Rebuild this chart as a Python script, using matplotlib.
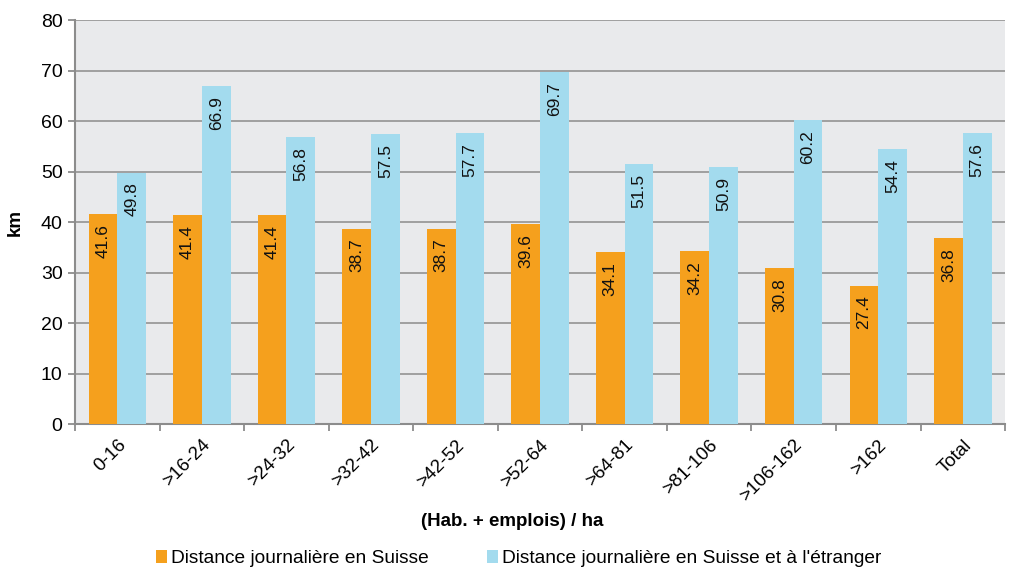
import matplotlib
matplotlib.use("Agg")
import matplotlib.pyplot as plt
import numpy as np

categories = ["0-16", ">16-24", ">24-32", ">32-42", ">42-52", ">52-64", ">64-81", ">81-106", ">106-162", ">162", "Total"]
suisse = [41.6, 41.4, 41.4, 38.7, 38.7, 39.6, 34.1, 34.2, 30.8, 27.4, 36.8]
etranger = [49.8, 66.9, 56.8, 57.5, 57.7, 69.7, 51.5, 50.9, 60.2, 54.4, 57.6]
series_names = ["Distance journalière en Suisse", "Distance journalière en Suisse et à l'étranger"]

plt.rcParams['font.family'] = ['Liberation Sans', 'DejaVu Sans']

fig = plt.figure(figsize=(10.11, 5.67), dpi=100)
ax = fig.add_axes([0.0742, 0.2522, 0.92, 0.7125])
ax.set_facecolor('#E9EAEC')

x = np.arange(len(categories))
w = 0.34
c1, c2 = '#F5A01D', '#A3DBEE'
b1 = ax.bar(x - w/2, suisse, w, color=c1, label=series_names[0], zorder=3)
b2 = ax.bar(x + w/2, etranger, w, color=c2, label=series_names[1], zorder=3)

for bars, vals in ((b1, suisse), (b2, etranger)):
    for r, v in zip(bars, vals):
        ax.text(r.get_x() + r.get_width()/2, v - 2.0, f"{v:.1f}", rotation=90,
                ha='center', va='top', fontsize=12.5, color='#111111', zorder=4)

ax.set_xlim(-0.5, len(categories) - 0.5)
ax.set_ylim(0, 80)
ax.set_yticks(range(0, 81, 10))
ax.yaxis.grid(True, color='#9A9A9A', linewidth=1.3, zorder=1)
ax.set_axisbelow(True)
ax.set_xticks(x)
ax.set_xticklabels(categories, rotation=45, ha='right', rotation_mode='anchor', fontsize=13.5)
ax.set_xticks(np.arange(-0.5, len(categories) - 0.4, 1), minor=True)
ax.tick_params(axis='x', which='major', length=0, pad=9)
ax.tick_params(axis='x', which='minor', length=5, color='#8C8C8C', width=1.3)
ax.tick_params(axis='y', length=5, color='#8C8C8C', width=1.3, labelsize=14, pad=4)
for s in ['top', 'right']:
    ax.spines[s].set_visible(False)
for s in ['left', 'bottom']:
    ax.spines[s].set_color('#8C8C8C')
    ax.spines[s].set_linewidth(1.5)

ax.set_ylabel('km', fontweight='bold', fontsize=13.5, labelpad=12)
fig.text(0.507, 1 - 521/567, '(Hab. + emplois) / ha', fontweight='bold', fontsize=13.5,
         ha='center', va='center')

fig.legend(handles=[b1, b2], labels=series_names, loc='lower center', ncol=2,
           bbox_to_anchor=(0.513, -0.031), frameon=False, fontsize=13.8,
           handlelength=0.6, handleheight=0.6, handletextpad=0.2, columnspacing=3.0)

fig.savefig('out.png', dpi=100)
